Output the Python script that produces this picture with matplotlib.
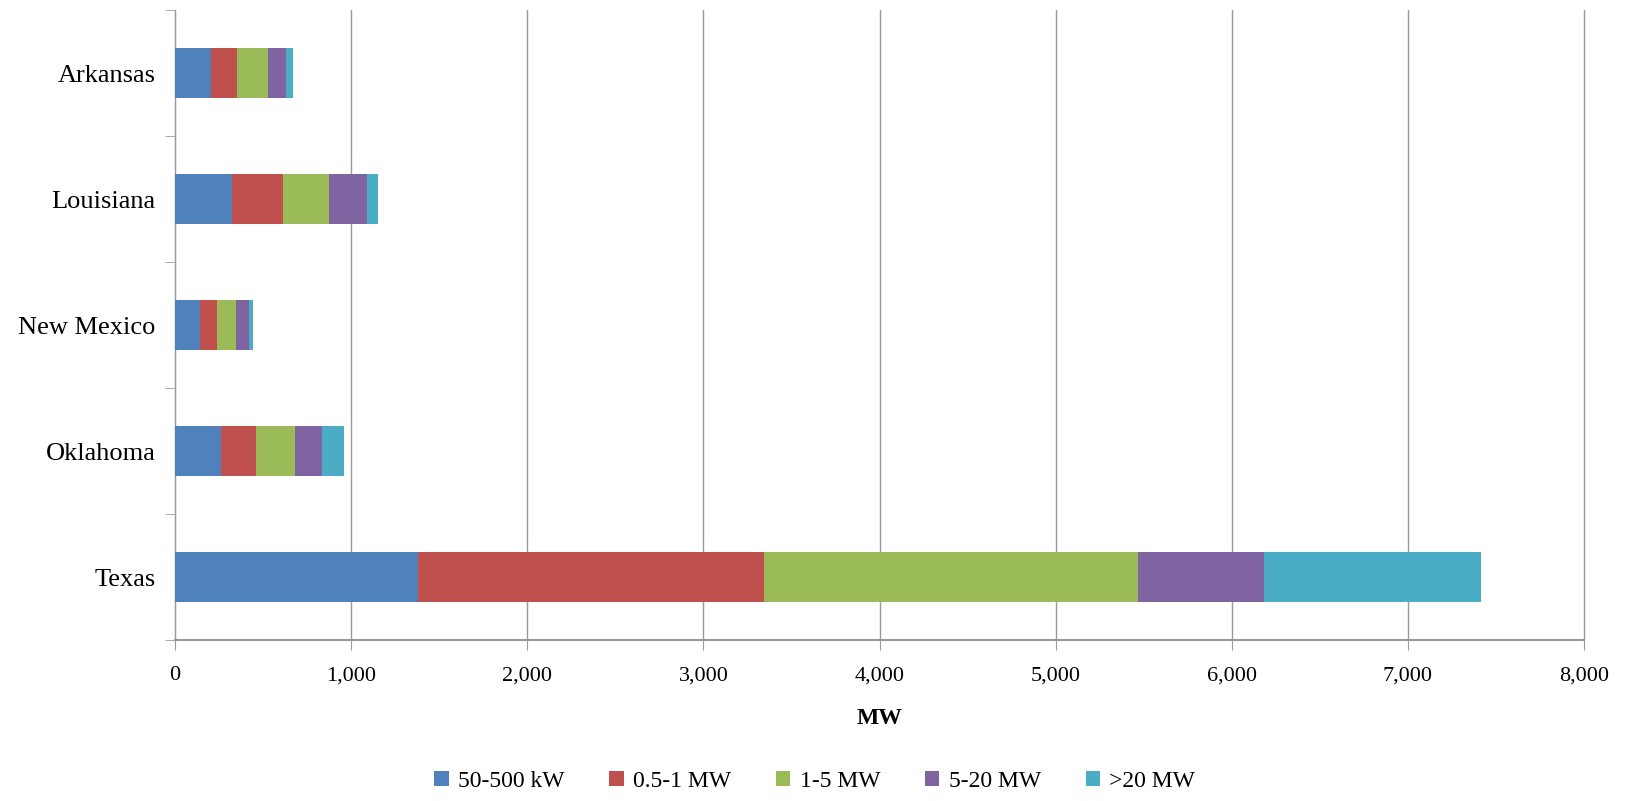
import matplotlib
matplotlib.use("Agg")
import matplotlib.pyplot as plt
import numpy as np

plt.rcParams["font.family"] = ["Liberation Serif", "DejaVu Serif"]

states = ["Texas", "Oklahoma", "New Mexico", "Louisiana", "Arkansas"]
sizes = ["50-500 kW", "0.5-1 MW", "1-5 MW", "5-20 MW", ">20 MW"]
kw_50_500 = [1380, 261, 142, 324, 202]
mw_05_1 = [1964, 201, 95, 291, 150]
mw_1_5 = [2123, 218, 109, 259, 174]
mw_5_20 = [717, 152, 71, 217, 102]
mw_20_up = [1231, 130, 28, 59, 42]
colors = ["#4F81BD", "#C0504D", "#9BBB59", "#8064A2", "#4BACC6"]

fig = plt.figure(figsize=(16.27, 8.01), dpi=100)
ax = fig.add_axes([0.1076, 0.201, 0.866, 0.7865])

y = np.arange(len(states))
left = np.zeros(len(states))
for vals, lab, c in zip([kw_50_500, mw_05_1, mw_1_5, mw_5_20, mw_20_up], sizes, colors):
    ax.barh(y, vals, left=left, height=0.4, color=c, label=lab, zorder=3)
    left += np.array(vals)

ax.set_xlim(0, 8000)
ax.set_ylim(-0.5, 4.5)
ax.set_xticks(np.arange(0, 8001, 1000))
ax.set_xticklabels([f"{v:,}" for v in range(0, 8001, 1000)])
ax.set_yticks(y)
ax.set_yticklabels(states)
ax.set_yticks(np.arange(-0.5, 4.6, 1), minor=True)

grid_c = "#9a9a9a"
ax.grid(axis="x", color=grid_c, lw=1.0, zorder=0)
for gl in ax.get_xgridlines():
    gl.set_clip_on(False)
for s in ["top", "right"]:
    ax.spines[s].set_visible(False)
ax.spines["left"].set_color(grid_c)
ax.spines["bottom"].set_color(grid_c)
ax.spines["bottom"].set_linewidth(1.5)
ax.tick_params(axis="y", which="major", length=0, pad=14, labelsize=19)
ax.tick_params(axis="y", which="minor", length=7, color=grid_c)
ax.tick_params(axis="x", length=7, color=grid_c, pad=12, labelsize=16)

ax.set_xlabel("MW", fontsize=17, fontweight="bold", labelpad=16)

ax.legend(loc="center", bbox_to_anchor=(0.454, -0.225), ncol=5, frameon=False,
          fontsize=17, handlelength=0.6, handleheight=0.6, handletextpad=0.4,
          columnspacing=1.9)

fig.savefig("out.png", dpi=100)
